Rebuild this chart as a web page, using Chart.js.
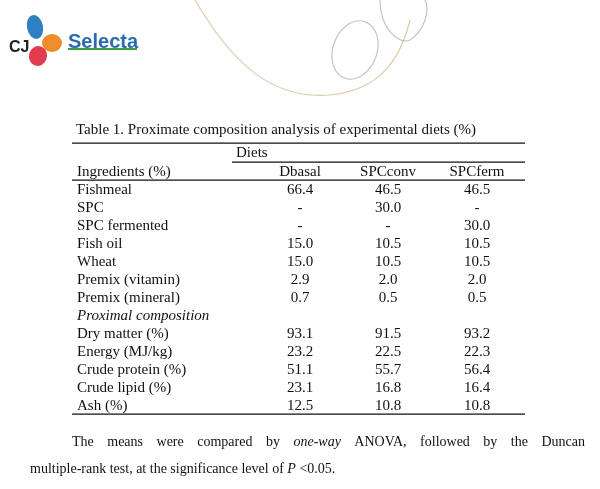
<!DOCTYPE html>
<html><head><meta charset="utf-8">
<script src="https://cdn.jsdelivr.net/npm/chart.js@4.4.0/dist/chart.umd.min.js"></script>
<style>html,body{margin:0;padding:0;background:#fff}#wrap{width:600px;height:489px}</style>
</head><body><div id="wrap"><canvas id="c" width="600" height="489"></canvas></div>
<script>
const title = "Table 1. Proximate composition analysis of experimental diets (%)";
const groupLabel = "Diets";
const firstHeader = "Ingredients (%)";
const columns = ["Dbasal", "SPCconv", "SPCferm"];
const rowLabels = ["Fishmeal","SPC","SPC fermented","Fish oil","Wheat","Premix (vitamin)","Premix (mineral)","Proximal composition","Dry matter (%)","Energy (MJ/kg)","Crude protein (%)","Crude lipid (%)","Ash (%)"];
const dbasal  = ["66.4","-","-","15.0","15.0","2.9","0.7","","93.1","23.2","51.1","23.1","12.5"];
const spcconv = ["46.5","30.0","-","10.5","10.5","2.0","0.5","","91.5","22.5","55.7","16.8","10.8"];
const spcferm = ["46.5","-","30.0","10.5","10.5","2.0","0.5","","93.2","22.3","56.4","16.4","10.8"];
const series = [dbasal, spcconv, spcferm];

const ROW0 = 190, STEP = 18, colX = [300, 388, 477], LX = 77;
const F = '"Liberation Serif", serif';
const datasets = series.map((vals, ci) => ({
  label: columns[ci],
  data: vals.map((v, ri) => ({x: colX[ci], y: ri, t: v})),
  pointRadius: 0, showLine: false
}));

const tablePlugin = {
  id: 'table',
  beforeDraw(chart) {
    const c = chart.ctx, xs = chart.scales.x, ys = chart.scales.y;
    const X = v => xs.getPixelForValue(v), Y = v => ys.getPixelForValue(v);
    c.save();
    c.fillStyle = '#fff'; c.fillRect(0,0,600,489);
    c.lineWidth = 1.2;
    c.strokeStyle = 'rgba(215,190,150,0.8)';
    c.beginPath(); c.moveTo(195,0); c.bezierCurveTo(230,60,270,100,330,95); c.bezierCurveTo(380,90,400,60,410,20); c.stroke();
    c.strokeStyle = 'rgba(175,185,180,0.8)';
    c.beginPath(); c.ellipse(355,50,22,30,0.35,0,Math.PI*2); c.stroke();
    c.beginPath(); c.moveTo(380,0); c.bezierCurveTo(380,30,400,45,410,40); c.bezierCurveTo(425,30,430,10,425,0); c.stroke();
    c.fillStyle = '#2f7fc3'; c.beginPath(); c.ellipse(35,27,8,12,-0.2,0,Math.PI*2); c.fill();
    c.fillStyle = '#ee8d2a'; c.beginPath(); c.ellipse(52,43,10,9,0,0,Math.PI*2); c.fill();
    c.fillStyle = '#e33b4e'; c.beginPath(); c.ellipse(38,56,9,10,0.3,0,Math.PI*2); c.fill();
    c.fillStyle = '#222'; c.font = 'bold 16px "Liberation Sans"'; c.textBaseline = 'alphabetic'; c.fillText('CJ', 9, 52);
    c.fillStyle = '#2a6bb0'; c.font = 'bold 20px "Liberation Sans"'; c.fillText('Selecta', 68, 48);
    c.strokeStyle = '#3aa040'; c.lineWidth = 2; c.beginPath(); c.moveTo(68,49); c.lineTo(137,49); c.stroke();
    c.fillStyle = '#111'; c.strokeStyle = '#111'; c.lineWidth = 1.3;
    c.textBaseline = 'middle';
    c.font = '15px ' + F; c.textAlign = 'left';
    c.fillText(title, X(76), Y(-3.35));
    const hl = (x1,x2,r) => { c.beginPath(); c.moveTo(X(x1), Y(r)); c.lineTo(X(x2), Y(r)); c.stroke(); };
    hl(72,525,-2.6); hl(232,525,-1.55); hl(72,525,-0.55); hl(72,525,12.45);
    c.fillText(groupLabel, X(236), Y(-2.05));
    c.fillText(firstHeader, X(LX), Y(-1.0));
    c.textAlign = 'center';
    columns.forEach((h,i) => c.fillText(h, X(colX[i]), Y(-1.0)));
    rowLabels.forEach((lab, ri) => {
      c.textAlign = 'left';
      c.font = (ri === 7 ? 'italic ' : '') + '15px ' + F;
      c.fillText(lab, X(LX), Y(ri));
    });
    c.font = '15px ' + F; c.textAlign = 'center';
    chart.data.datasets.forEach(ds => ds.data.forEach(p => { if (p.t) c.fillText(p.t, X(p.x), Y(p.y)); }));
    c.textAlign = 'left';
    const seg1 = [['The means were compared by ',''],['one-way','italic '],[' ANOVA, followed by the Duncan','']];
    let total = 0;
    seg1.forEach(([t,s]) => { c.font = s + '14px ' + F; total += c.measureText(t).width; });
    const spaces = seg1.map(s=>s[0]).join('').split(' ').length - 1;
    const extra = (585 - 72 - total) / spaces;
    let x = 72;
    seg1.forEach(([t,s]) => {
      c.font = s + '14px ' + F;
      t.split(/( )/).forEach(w => { if (w === ' ') { x += c.measureText(' ').width + extra; } else if (w) { c.fillText(w, x, 442); x += c.measureText(w).width; } });
    });
    const seg2 = [['multiple-rank test, at the significance level of ',''],['P','italic '],[' <0.05.','']];
    x = 30;
    seg2.forEach(([t,s]) => { c.font = s + '14px ' + F; c.fillText(t, x, 469); x += c.measureText(t).width; });
    c.restore();
  }
};

new Chart(document.getElementById('c'), {
  type: 'scatter',
  data: { datasets },
  options: {
    responsive: false, animation: false,
    layout: { padding: 0 },
    plugins: { legend: {display:false}, tooltip: {enabled:false} },
    scales: {
      x: { type:'linear', min:0, max:600, display:false },
      y: { type:'linear', min:-ROW0/STEP, max:(489-ROW0)/STEP, reverse:true, display:false }
    }
  },
  plugins: [tablePlugin]
});
</script></body></html>
